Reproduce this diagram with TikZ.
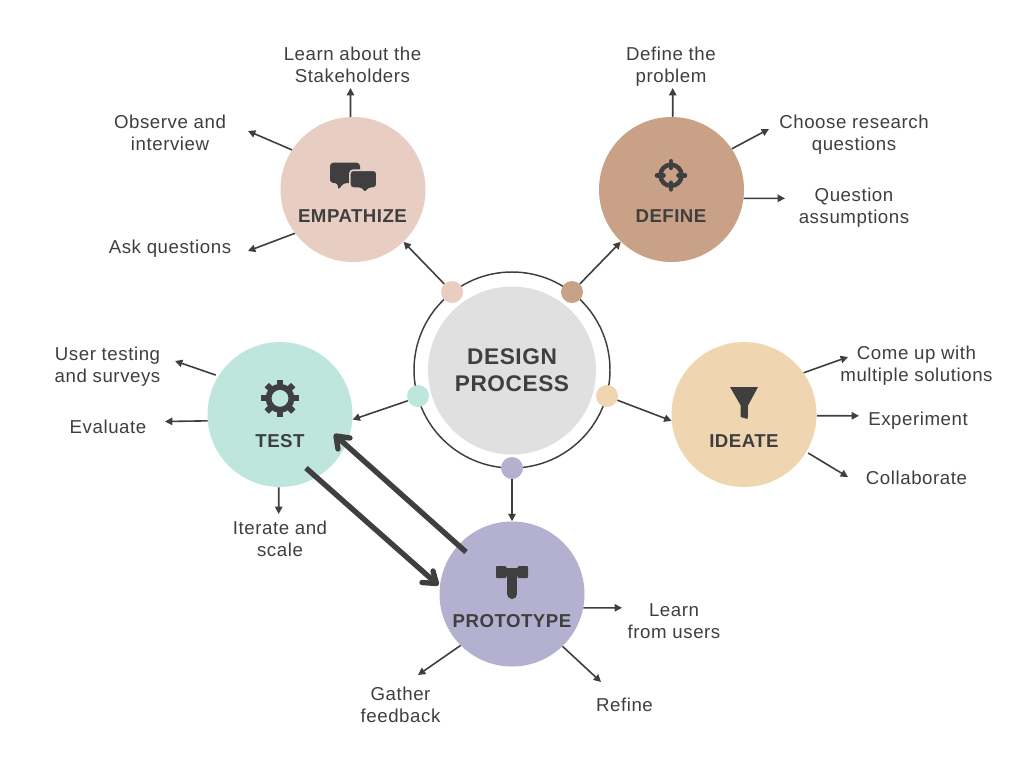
\documentclass[tikz,border=0pt]{standalone}
\usepackage{fontspec}
\setmainfont[LetterSpace=3]{Liberation Sans}
\newfontfamily\ttlfont[LetterSpace=2.5]{Liberation Sans}
\usetikzlibrary{arrows.meta}
\definecolor{ink}{HTML}{3F3F3F}
\definecolor{cemp}{HTML}{E8CEC2}
\definecolor{cdef}{HTML}{C9A186}
\definecolor{ctes}{HTML}{BFE6DC}
\definecolor{cide}{HTML}{EFD5B0}
\definecolor{cpro}{HTML}{B3B1CF}
\definecolor{ccen}{HTML}{E0E0E0}
\tikzset{
  x=0.75pt,y=-0.75pt,
  big/.style={circle,minimum size=108.75pt,inner sep=0pt,fill=#1},
  dot/.style={circle,minimum size=16.5pt,inner sep=0pt,fill=#1},
  lnk/.style={draw=ink,line width=1.2pt,-{Triangle[length=5.5pt,width=5.5pt]}},
  heavy/.style={draw=ink,line width=4pt},
  heavy head/.style={draw=ink,line width=4pt,line cap=round,line join=round},
  lab/.style={text=ink,font=\fontsize{14pt}{16.5pt}\selectfont,align=center,inner sep=0pt},
  ttl/.style={text=ink,font=\ttlfont\fontsize{14pt}{16pt}\selectfont\bfseries,inner sep=0pt},
  icon/.style={fill=ink,draw=none},
}
\begin{document}
\begin{tikzpicture}
\useasboundingbox (0,0) rectangle (1024,768);
\fill[white] (0,0) rectangle (1024,768);
% centre
\node[circle,minimum size=147pt,inner sep=0pt,draw=ink,line width=1.1pt] (ring) at (512,370) {};
\node[circle,minimum size=126pt,inner sep=0pt,fill=ccen,text=ink,align=center,font=\ttlfont\fontsize{17pt}{20.25pt}\selectfont\bfseries] (core) at (512,370.5) {DESIGN\\PROCESS};
% big circles
\node[big=cemp] (emp) at (353,189.5) {};
\node[big=cdef] (def) at (671.5,189.5) {};
\node[big=ctes] (tes) at (280,414.5) {};
\node[big=cide] (ide) at (744,414.5) {};
\node[big=cpro] (pro) at (512,594) {};
% dots
\node[dot=cemp] (demp) at (452,292) {};
\node[dot=cdef] (ddef) at (572,292) {};
\node[dot=ctes] (dtes) at (418,396) {};
\node[dot=cide] (dide) at (607,396) {};
\node[dot=cpro] (dpro) at (512,468) {};
% titles
\node[ttl] (temp) at (352.5,216) {EMPATHIZE};
\node[ttl] (tdef) at (671,216) {DEFINE};
\node[ttl] (ttes) at (280,441) {TEST};
\node[ttl] (tide) at (744,441) {IDEATE};
\node[ttl] (tpro) at (512,621) {PROTOTYPE};
% labels
\node[lab] (l1) at (352.5,65) {Learn about the\\Stakeholders};
\node[lab] (l2) at (170,133) {Observe and\\interview};
\node[lab] (l3) at (170,248.5) {Ask questions};
\node[lab] (l4) at (671,67) {Define the\\problem};
\node[lab] (l5) at (854,135) {Choose research\\questions};
\node[lab] (l6) at (854,208) {Question\\assumptions};
\node[lab] (l7) at (916.5,366) {Come up with\\multiple solutions};
\node[lab] (l8) at (918,421) {Experiment};
\node[lab] (l9) at (916.5,478) {Collaborate};
\node[lab] (l10) at (107.5,367) {User testing\\and surveys};
\node[lab] (l11) at (108,427) {Evaluate};
\node[lab] (l12) at (280,539) {Iterate and\\scale};
\node[lab] (l13) at (674,621) {Learn\\from users};
\node[lab] (l14) at (624.5,705) {Refine};
\node[lab] (l15) at (400.5,705) {Gather\\feedback};
% free ends
\coordinate (a1) at (350.5,88); \coordinate (a2) at (248,131); \coordinate (a3) at (248,251);
\coordinate (a4) at (672.7,88); \coordinate (a5) at (769,129); \coordinate (a6) at (785,198.3);
\coordinate (a7) at (848,357); \coordinate (a8) at (859,415.8); \coordinate (a9) at (848,477);
\coordinate (a10) at (175,361); \coordinate (a11) at (165,421.5); \coordinate (a12) at (278.7,514);
\coordinate (a13) at (622,607.8); \coordinate (a14) at (601,682); \coordinate (a15) at (418,675);
\coordinate (ts) at (466,552); \coordinate (te) at (336,436);
\coordinate (us) at (306,468); \coordinate (ue) at (436.5,583.5);
\coordinate (tb1) at (350,438); \coordinate (tb2) at (338,449);
\coordinate (ub1) at (422,582.5); \coordinate (ub2) at (433,571);
% dot links
\draw[lnk] (demp) -- (emp);
\draw[lnk] (ddef) -- (def);
\draw[lnk] (dtes.205) -- (tes.-4);
\draw[lnk] (dide.-22) -- (ide.185);
\draw[lnk] (dpro) -- (pro);
% leaf links
\draw[lnk] (emp.92) -- (a1);
\draw[lnk] (emp.147.4) -- (a2);
\draw[lnk] (emp.217) -- (a3);
\draw[lnk] (def.89) -- (a4);
\draw[lnk] (def.34.6) -- (a5);
\draw[lnk] (def.-7) -- (a6);
\draw[lnk] (ide.35) -- (a7);
\draw[lnk] (ide.-1) -- (a8);
\draw[lnk,shorten <=1.5pt] (ide.-31) -- (a9);
\draw[lnk,shorten <=2pt] (tes.148.6) -- (a10);
\draw[lnk] (tes.185.5) -- (a11);
\draw[lnk] (tes.269) -- (a12);
\draw[lnk] (pro.-11) -- (a13);
\draw[lnk] (pro.-46.6) -- (a14);
\draw[lnk] (pro.225) -- (a15);
% thick arrows
\draw[heavy] (ts) -- (te);
\draw[heavy head] (tb1) -- (te) -- (tb2);
\draw[heavy] (us) -- (ue);
\draw[heavy head] (ub1) -- (ue) -- (ub2);
% icon: speech bubbles
\fill[icon,rounded corners=2.5pt] (330,162.7) -- (360,162.7) -- (360,183) -- (343.5,183) -- (338,190.5) -- (338,183) -- (330,183) -- cycle;
\path[icon,draw=cemp,line width=1.2pt,rounded corners=2.5pt] (349.9,170.2) -- (376.8,170.2) -- (376.8,188.1) -- (368.5,188.1) -- (365,194) -- (361.5,188.1) -- (349.9,188.1) -- cycle;
% icon: target
\begin{scope}[shift={(671,175.3)}]
\draw[ink,line width=3.3pt] (0,0) circle (10.6);
\foreach \a in {0,90,180,270}{
  \draw[ink,line width=3.5pt,line cap=round] (\a:7.5) -- (\a:14);
}
\end{scope}
% icon: gear
\begin{scope}[shift={(280,398.3)}]
\draw[ink,line width=4.4pt] (0,0) circle (11.5);
\foreach \a in {0,45,...,315}{
  \draw[ink,line width=4.7pt,line cap=butt] (\a:12) -- (\a:18.7);
}
\end{scope}
% icon: funnel
\fill[icon] (730,387) -- (758,387) -- (748,405.5) -- (747.7,419) -- (740.7,417) -- (740.7,405.5) -- cycle;
% icon: hammer
\fill[icon,rounded corners=0.6pt] (496,566) -- (506,566) -- (506,568) -- (518,568) -- (518,566) -- (528,566) -- (528,578) -- (518,578) -- (517,575.5) -- (507,575.5) -- (506,578) -- (496,578) -- cycle;
\draw[ink,line width=7.5pt,line cap=round] (512.3,574) -- (512.3,594);
\end{tikzpicture}
\end{document}
